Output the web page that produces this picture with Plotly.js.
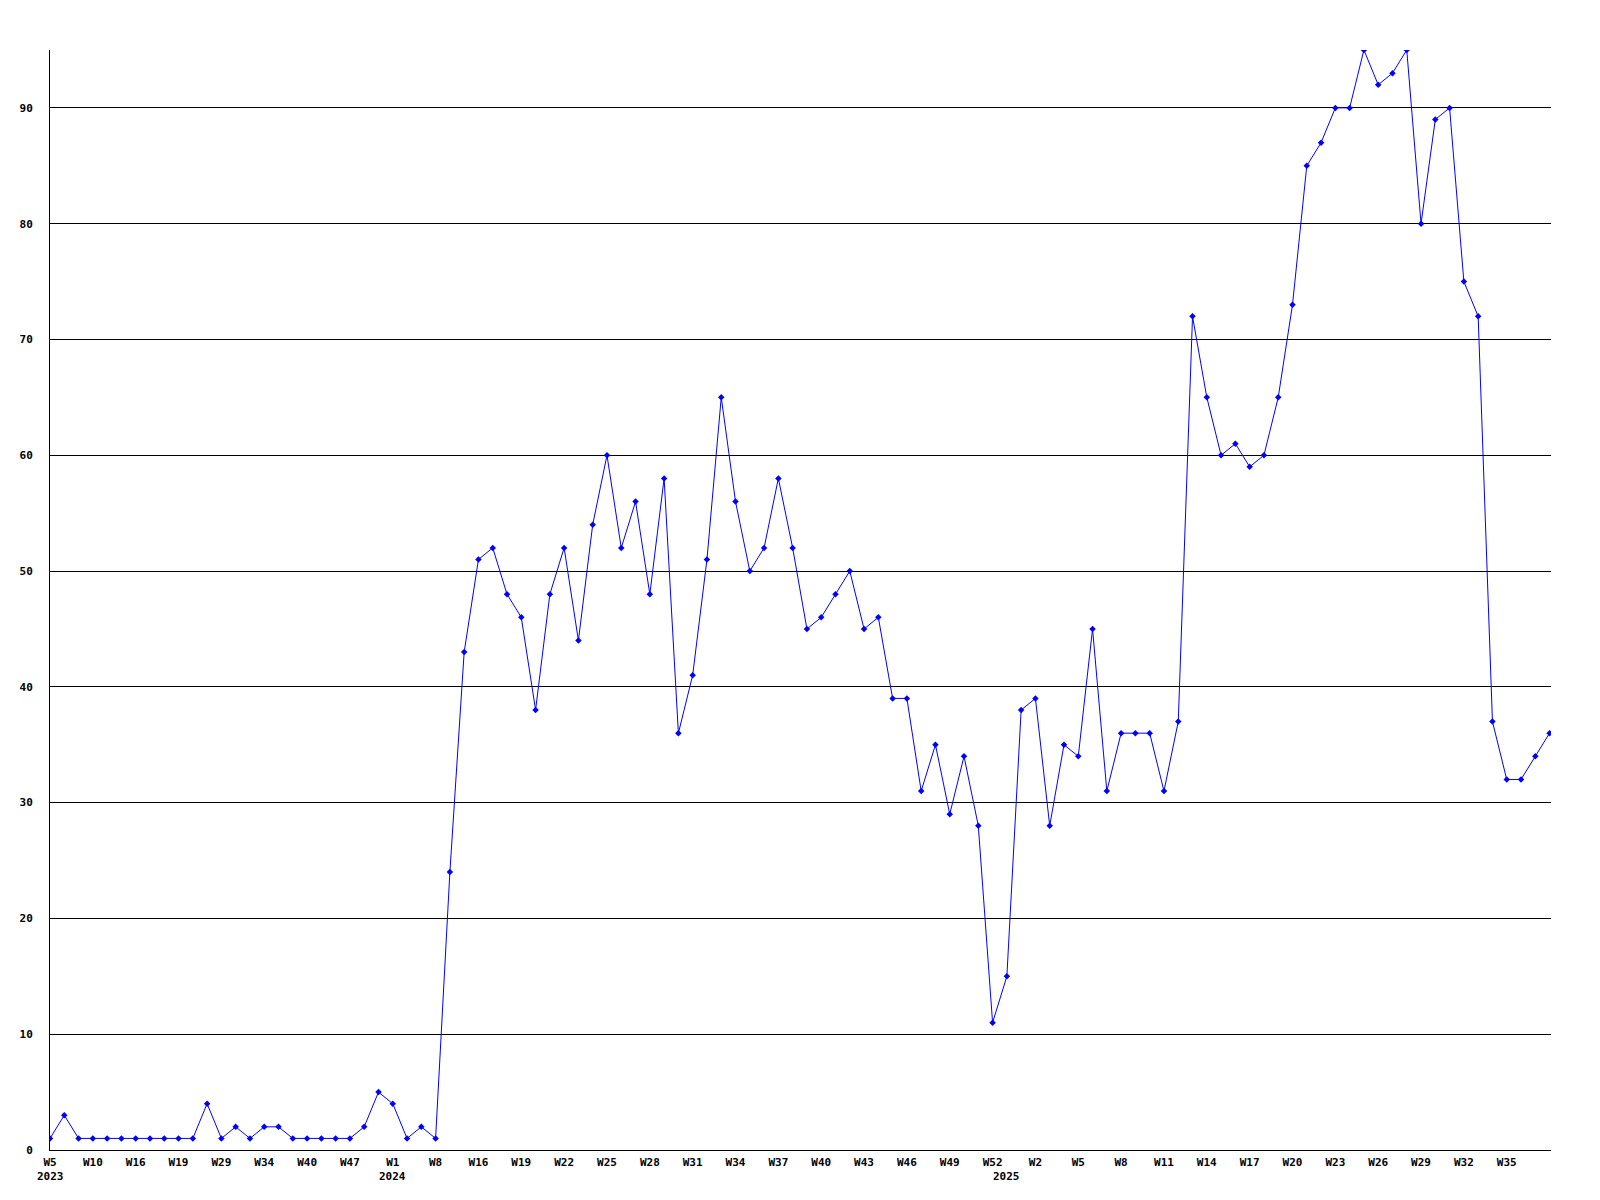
<!DOCTYPE html>
<html>
<head>
<meta charset="utf-8">
<script src="https://cdn.plot.ly/plotly-3.0.1.min.js"></script>
<style>
  html, body { margin: 0; padding: 0; background: #ffffff; }
  #chart { width: 1600px; height: 1200px; }
</style>
</head>
<body>
<div id="chart"></div>
<script>
// Weekly values, one per point
const values = [
  1, 3, 1, 1, 1, 1, 1, 1, 1, 1, 1, 4, 1, 2, 1, 2, 2, 1, 1, 1, 1, 1, 2, 5, 4, 1, 2, 1,
  24, 43, 51, 52, 48, 46, 38, 48, 52, 44, 54, 60, 52, 56, 48, 58, 36, 41, 51, 65, 56, 50,
  52, 58, 52, 45, 46, 48, 50, 45, 46, 39, 39, 31, 35, 29, 34, 28, 11, 15, 38, 39, 28, 35,
  34, 45, 31, 36, 36, 36, 31, 37, 72, 65, 60, 61, 59, 60, 65, 73, 85, 87, 90, 90, 95, 92,
  93, 95, 80, 89, 90, 75, 72, 37, 32, 32, 34, 36
];

// Tick labels (one every third point)
const tickWeeks = [
  "W5", "W10", "W16", "W19", "W29", "W34", "W40", "W47",
  "W1", "W8", "W16", "W19", "W22", "W25", "W28", "W31", "W34", "W37", "W40", "W43", "W46", "W49", "W52",
  "W2", "W5", "W8", "W11", "W14", "W17", "W20", "W23", "W26", "W29", "W32", "W35"
];
// Year labels, placed under the first point of each year
const years = ["2023", "2024", "2025"];
const yearStartPoint = [0, 24, 67];
const yTicks = [0, 10, 20, 30, 40, 50, 60, 70, 80, 90];

const labelStep = 3;
const xs = values.map((_, i) => i);
const tickvals = tickWeeks.map((_, i) => i * labelStep);

const font = { family: "DejaVu Sans Mono, Liberation Mono, monospace", size: 11, color: "#000000", weight: "bold" };

const trace = {
  type: "scatter",
  mode: "lines+markers",
  x: xs,
  y: values,
  line: { color: "#0000ff", width: 1 },
  marker: { symbol: "diamond", size: 5, color: "#0000ff" },
  hoverinfo: "skip"
};

const annotations = years.map((yr, i) => ({
  text: yr,
  x: yearStartPoint[i],
  xref: "x",
  y: 0,
  yref: "paper",
  xanchor: "center",
  yanchor: "middle",
  yshift: -26,
  showarrow: false,
  font: font
}));

const layout = {
  width: 1600,
  height: 1200,
  paper_bgcolor: "#ffffff",
  plot_bgcolor: "#ffffff",
  showlegend: false,
  margin: { l: 50, r: 49, t: 50, b: 50, pad: 0 },
  annotations: annotations,
  xaxis: {
    range: [0, 105.1],
    tickmode: "array",
    tickvals: tickvals,
    ticktext: tickWeeks,
    tickfont: font,
    ticks: "outside",
    ticklen: 2,
    tickcolor: "rgba(0,0,0,0)",
    showgrid: false,
    zeroline: false,
    showline: true,
    linecolor: "#000000",
    linewidth: 1,
    tickangle: 0
  },
  yaxis: {
    range: [0, 95],
    tickmode: "array",
    tickvals: yTicks,
    ticktext: yTicks.map(String),
    tickfont: font,
    ticks: "outside",
    ticklen: 14,
    tickcolor: "rgba(0,0,0,0)",
    showgrid: true,
    gridcolor: "#000000",
    gridwidth: 1,
    zeroline: false,
    showline: true,
    linecolor: "#000000",
    linewidth: 1
  }
};

Plotly.newPlot("chart", [trace], layout, { staticPlot: true, displayModeBar: false });
</script>
</body>
</html>
